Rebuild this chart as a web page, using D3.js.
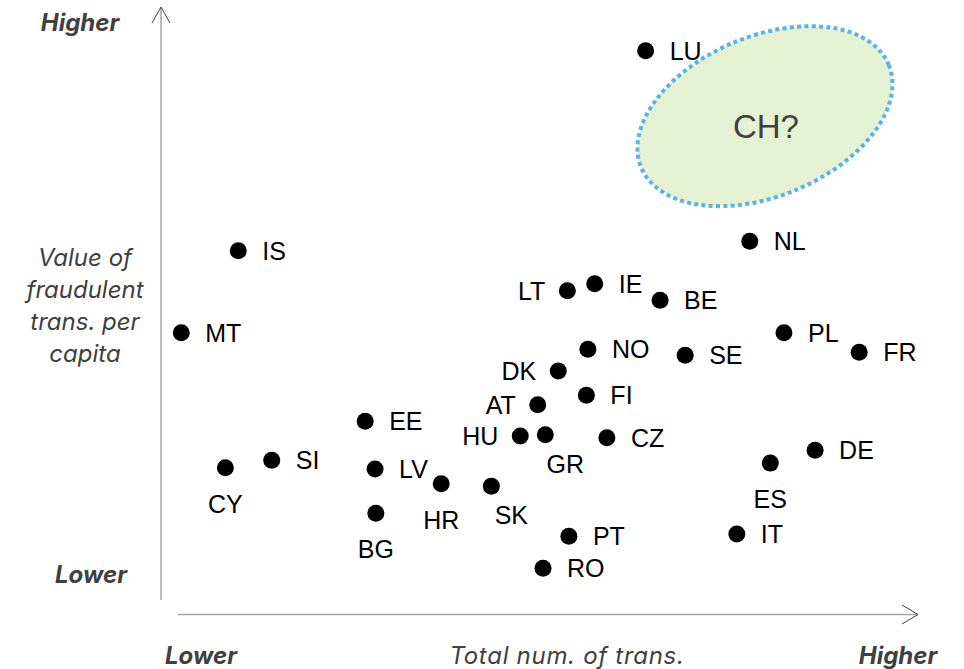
<!DOCTYPE html>
<html>
<head>
<meta charset="utf-8">
<script src="https://cdn.jsdelivr.net/npm/d3@7/dist/d3.min.js"></script>
<style>
  html, body { margin: 0; padding: 0; background: #fff; }
  svg { display: block; }
</style>
</head>
<body>
<svg id="chart" width="964" height="669"></svg>
<script>
// ---- Data (relative, unitless 0-100 scale) ----
const countries = ["LU","IS","MT","NL","LT","IE","BE","PL","FR","NO","SE","DK","FI","AT","EE","HU","GR","CZ","DE","CY","SI","LV","ES","HR","SK","BG","PT","IT","RO"];
const numTrans  = [63.9,10.3,2.8,77.6,53.6,57.2,65.8,82.1,92.0,56.3,69.1,52.4,56.1,49.7,27.0,47.4,50.7,58.8,86.2,8.6,14.7,28.3,80.3,37.0,43.6,28.4,53.8,75.9,50.4];
const fraudVal  = [93.1,59.2,45.3,60.8,52.4,53.6,50.8,45.3,42.0,42.5,41.5,38.8,34.7,33.1,30.3,27.8,28.0,27.5,25.4,22.4,23.7,22.2,23.2,19.7,19.3,14.7,10.8,11.2,5.4];
const labelSide = ["r","r","r","r","l","r","r","r","r","r","r","l","r","l","r","l","br","r","r","b","r","r","b","b","br","b","r","r","r"];
const yTitleLines = ["Value of","fraudulent","trans. per","capita"];
const axisEnds = {low: "Lower", high: "Higher"};
const xTitle = "Total num. of trans.";
const highlight = {label: "CH?", x: 79.6, y: 82.0};

// ---- Setup ----
const svg = d3.select("#chart");
const x = d3.scaleLinear().domain([0,100]).range([160,920]);
const y = d3.scaleLinear().domain([0,100]).range([600,10]);

const grey = "#404040";
const titleFont = "Inter, 'Open Sans', sans-serif";
const labelFont = "'Liberation Sans', Arial, sans-serif";

// Highlight ellipse
const hx = x(highlight.x), hy = y(highlight.y);
svg.append("ellipse")
  .attr("cx", hx).attr("cy", hy)
  .attr("rx", 134).attr("ry", 80)
  .attr("transform", `rotate(-22.5 ${hx} ${hy})`)
  .attr("fill", "#e4f2d3")
  .attr("stroke", "#5bb2e6")
  .attr("stroke-width", 4)
  .attr("stroke-dasharray", "4,3.3");
svg.append("text")
  .attr("x", hx + 1).attr("y", hy + 22)
  .attr("text-anchor", "middle")
  .attr("font-family", labelFont)
  .attr("font-size", 33)
  .attr("fill", grey)
  .text(highlight.label);

// Axes
svg.append("line").attr("x1",161).attr("y1",600).attr("x2",161).attr("y2",8)
  .attr("stroke","#a6a6a6").attr("stroke-width",1.5);
svg.append("path").attr("d","M152,23 L161,7 L170,23")
  .attr("fill","none").attr("stroke",grey).attr("stroke-width",1);
svg.append("line").attr("x1",178).attr("y1",614.5).attr("x2",918).attr("y2",614.5)
  .attr("stroke","#a6a6a6").attr("stroke-width",1.5);
svg.append("path").attr("d","M902,605 L918,614.5 L902,624")
  .attr("fill","none").attr("stroke",grey).attr("stroke-width",1);

// Axis texts
const t = (tx, ty, s, bold, size, ls) => svg.append("text")
  .attr("x", tx).attr("y", ty).attr("text-anchor","middle")
  .attr("font-family", titleFont).attr("font-style","italic")
  .attr("font-weight", bold ? 700 : 400).attr("font-size", size)
  .attr("letter-spacing", ls || 0)
  .attr("fill", grey).text(s);
t(80, 31, axisEnds.high, true, 24);
t(91, 583, axisEnds.low, true, 24);
t(201, 664, axisEnds.low, true, 24);
t(898, 664, axisEnds.high, true, 24);
t(567, 664, xTitle, false, 24, 0.7);
yTitleLines.forEach((s,i) => t(85, 266 + i*32, s, false, 24));

// Points
const data = countries.map((c,i) => ({c, x: numTrans[i], y: fraudVal[i], side: labelSide[i]}));
const g = svg.append("g");
g.selectAll("circle").data(data).join("circle")
  .attr("cx", d => x(d.x)).attr("cy", d => y(d.y)).attr("r", 8.5).attr("fill", "#000");

const off = {
  r:  {dx: 24,  dy: 9,  a: "start"},
  l:  {dx: -22, dy: 9,  a: "end"},
  b:  {dx: 0,   dy: 45, a: "middle"},
  br: {dx: 20,  dy: 38, a: "middle"}
};
g.selectAll("text").data(data).join("text")
  .attr("x", d => x(d.x) + off[d.side].dx)
  .attr("y", d => y(d.y) + off[d.side].dy)
  .attr("text-anchor", d => off[d.side].a)
  .attr("font-family", labelFont)
  .attr("font-size", 25)
  .attr("fill", "#000")
  .text(d => d.c);
</script>
</body>
</html>
